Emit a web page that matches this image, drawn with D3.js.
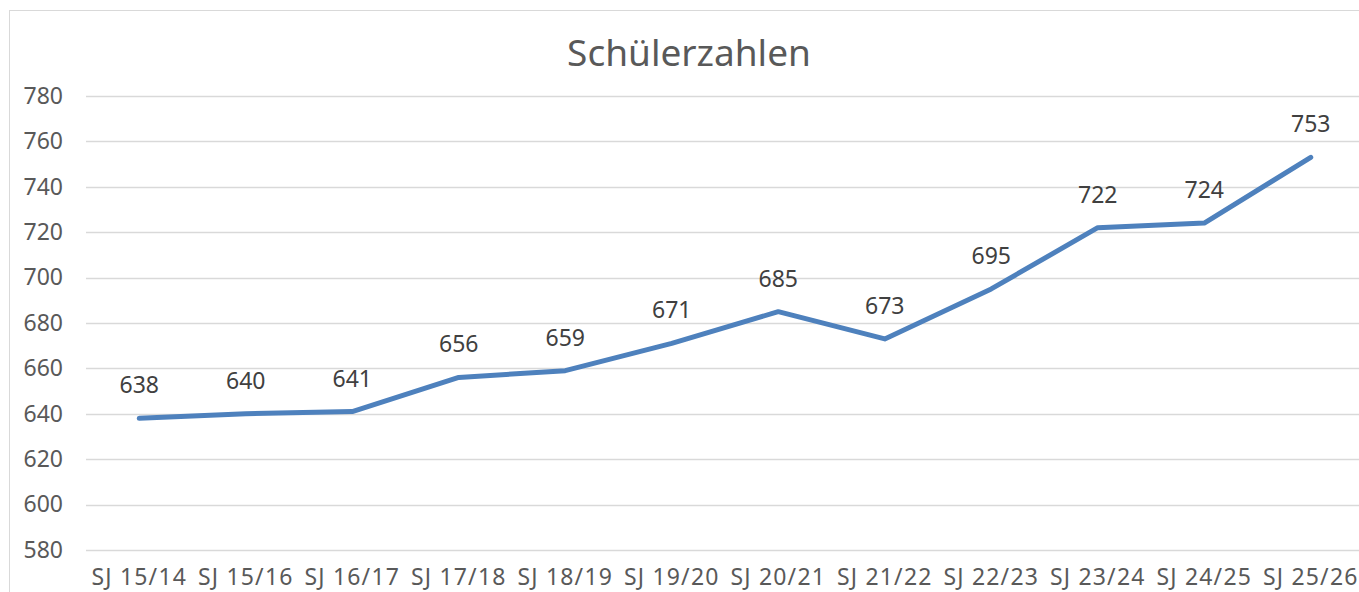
<!DOCTYPE html>
<html>
<head>
<meta charset="utf-8">
<script src="https://cdn.jsdelivr.net/npm/d3@7"></script>
<style>
  body { margin: 0; background: #fff; }
  svg { display: block; font-family: "Noto Sans", sans-serif; }
</style>
</head>
<body>
<div id="container"></div>
<script>
var width = 1359;
var height = 592;

var categories = ["SJ 15/14", "SJ 15/16", "SJ 16/17", "SJ 17/18", "SJ 18/19", "SJ 19/20",
                  "SJ 20/21", "SJ 21/22", "SJ 22/23", "SJ 23/24", "SJ 24/25", "SJ 25/26"];
var values = [638, 640, 641, 656, 659, 671, 685, 673, 695, 722, 724, 753];
var yTicks = [580, 600, 620, 640, 660, 680, 700, 720, 740, 760, 780];

var plotLeft = 86, plotRight = 1364, plotTop = 96, plotBottom = 550;

var svg = d3.select("#container")
    .append("svg")
    .attr("width", width)
    .attr("height", height);

// chart frame
svg.append("rect")
    .attr("x", 9.5).attr("y", 10.5)
    .attr("width", 1370).attr("height", 600)
    .attr("fill", "none")
    .attr("stroke", "#d9d9d9")
    .attr("stroke-width", 1);

var xScale = d3.scaleBand()
    .domain(categories)
    .range([plotLeft, plotRight]);

var yScale = d3.scaleLinear()
    .domain([580, 780])
    .range([plotBottom, plotTop]);

// gridlines
svg.append("g")
    .selectAll("line")
    .data(yTicks)
    .enter()
    .append("line")
    .attr("x1", plotLeft)
    .attr("x2", plotRight)
    .attr("y1", function (d) { return Math.round(yScale(d)) + 0.5; })
    .attr("y2", function (d) { return Math.round(yScale(d)) + 0.5; })
    .attr("stroke", "#d9d9d9")
    .attr("stroke-width", 1.5);

// y axis labels
var yAxis = d3.axisLeft(yScale).tickValues(yTicks).tickSize(0).tickPadding(23);
var gy = svg.append("g")
    .attr("transform", "translate(" + plotLeft + ",0)")
    .call(yAxis);
gy.select(".domain").remove();
gy.selectAll("text")
    .attr("font-family", "Noto Sans, sans-serif")
    .attr("font-size", "23px")
    .attr("fill", "#595959");

// x axis labels
var xAxis = d3.axisBottom(xScale).tickSize(0).tickPadding(19);
var gx = svg.append("g")
    .attr("transform", "translate(0," + plotBottom + ")")
    .call(xAxis);
gx.select(".domain").remove();
gx.selectAll("text")
    .attr("font-family", "Noto Sans, sans-serif")
    .attr("font-size", "23px")
    .attr("letter-spacing", "1.2px")
    .attr("fill", "#595959");

// line
var line = d3.line()
    .x(function (d, i) { return xScale(categories[i]) + xScale.bandwidth() / 2; })
    .y(function (d) { return yScale(d); });

svg.append("path")
    .datum(values)
    .attr("d", line)
    .attr("fill", "none")
    .attr("stroke", "#4e81bd")
    .attr("stroke-width", 5)
    .attr("stroke-linejoin", "round")
    .attr("stroke-linecap", "round");

// data labels
svg.append("g")
    .selectAll("text")
    .data(values)
    .enter()
    .append("text")
    .attr("x", function (d, i) { return xScale(categories[i]) + xScale.bandwidth() / 2; })
    .attr("y", function (d) { return yScale(d) - 25; })
    .attr("text-anchor", "middle")
    .attr("font-size", "23px")
    .attr("fill", "#404040")
    .text(function (d) { return d; });

// title
svg.append("text")
    .attr("x", 689)
    .attr("y", 66)
    .attr("text-anchor", "middle")
    .attr("font-size", "37px")
    .attr("fill", "#595959")
    .text("Schülerzahlen");
</script>
</body>
</html>
